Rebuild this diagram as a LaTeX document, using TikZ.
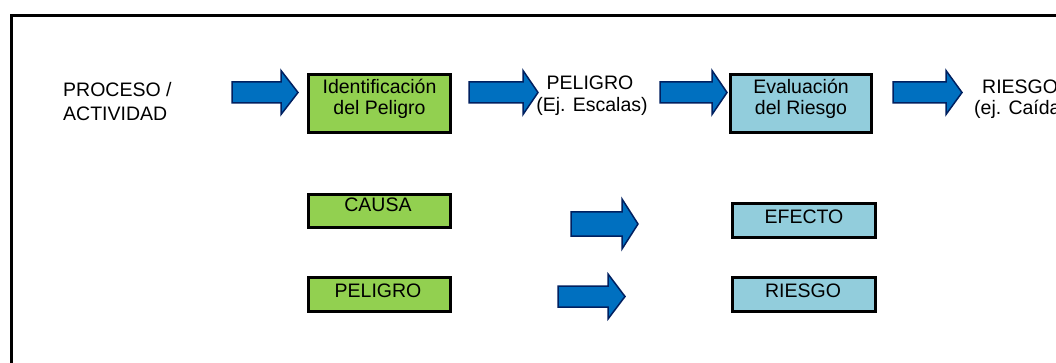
\documentclass[tikz,border=0pt]{standalone}
\usepackage{fontspec}
\setmainfont{Liberation Sans}
\definecolor{boxgreen}{HTML}{92D050}
\definecolor{boxblue}{HTML}{92CDDC}
\definecolor{arrfill}{HTML}{0070C0}
\definecolor{arrline}{HTML}{002060}
\newcommand\blockarr[6]{% tail x, neck x, tip x, center y, body half, head half
  \draw[blockstyle] (#1,{#4-#5}) -- (#2,{#4-#5}) -- (#2,{#4-#6}) -- (#3,#4)
    -- (#2,{#4+#6}) -- (#2,{#4+#5}) -- (#1,{#4+#5}) -- cycle;}
\begin{document}
\begin{tikzpicture}[x=1pt,y=-1pt,
  every node/.style={font=\fontsize{19.5pt}{21pt}\selectfont, inner sep=0pt},
  gbox/.style={draw=black, line width=3pt, fill=boxgreen, minimum width=142pt},
  bbox/.style={draw=black, line width=3pt, fill=boxblue, minimum width=142pt},
  lbl/.style={anchor=base, text=black},
  blockstyle/.style={fill=arrfill, draw=arrline, line width=1.5pt, line join=miter}]
\useasboundingbox (0,0) rectangle (1056,363);
\fill[white] (0,0) rectangle (1056,363);
% frame
\draw[line width=3pt] (11.5,15.5) rectangle (1120,420);
% top row
\node[lbl, anchor=base west] (p1) at (63,97) {PROCESO /};
\node[lbl, anchor=base west] (p2) at (63,121) {ACTIVIDAD};
\node[gbox, minimum height=58pt] (idp) at (379.5,103.5) {};
\node[lbl] (idp1) at (379.5,93.5) {Identificación};
\node[lbl] (idp2) at (379.5,114.5) {del Peligro};
\node[lbl] (pel1) at (590,90) {PELIGRO};
\node[lbl] (pel2) at (592,111.5) {(Ej. Escalas)};
\node[bbox, minimum height=58pt, minimum width=141pt] (evr) at (801,103.5) {};
\node[lbl] (evr1) at (801,94) {Evaluación};
\node[lbl] (evr2) at (801,115) {del Riesgo};
\node[lbl, anchor=base west] (ri1) at (982,93.5) {RIESGO};
\node[lbl, anchor=base west] (ri2) at (974,114.5) {(ej. Caída)};
% top arrows
\blockarr{232}{281}{298}{92.5}{10.5}{22}
\blockarr{469}{523}{538}{92.5}{10.5}{22}
\blockarr{660}{712}{727}{92.5}{10.5}{22}
\blockarr{893}{946}{962}{92.5}{10.5}{22}
% bottom rows
\node[gbox, minimum height=33pt] (cau) at (379.5,211) {};
\node[lbl] (caut) at (378,211.5) {CAUSA};
\node[gbox, minimum height=34pt] (pelb) at (379.5,294.5) {};
\node[lbl] (pelbt) at (378,297) {PELIGRO};
\node[bbox, minimum height=34pt, minimum width=143pt] (efe) at (804,220.5) {};
\node[lbl] (efet) at (804,223.5) {EFECTO};
\node[bbox, minimum height=34pt, minimum width=143pt] (rib) at (804,294.5) {};
\node[lbl] (ribt) at (803,297) {RIESGO};
\blockarr{571}{622}{638}{224}{12}{25}
\blockarr{558}{608}{625}{296.5}{10.5}{22.5}
\end{tikzpicture}
\end{document}
